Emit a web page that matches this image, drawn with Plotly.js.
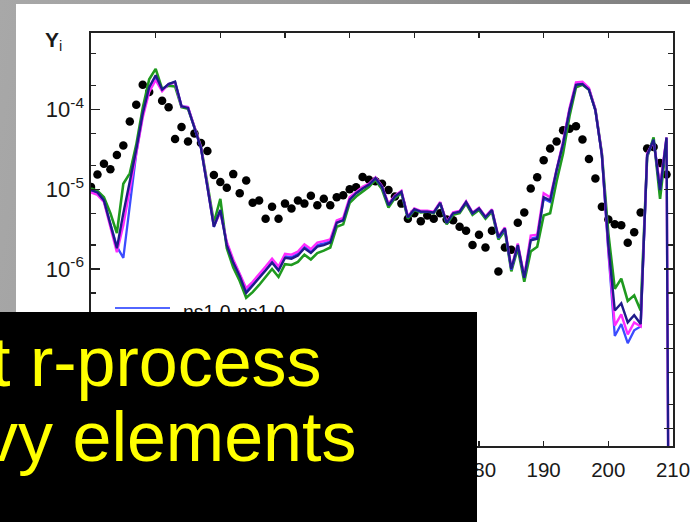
<!DOCTYPE html>
<html>
<head>
<meta charset="utf-8">
<script src="https://cdn.plot.ly/plotly-3.0.1.min.js"></script>
<style>
  html, body { margin: 0; padding: 0; }
  body { width: 690px; height: 522px; overflow: hidden;
         background: linear-gradient(100deg, #a8a8a8 0%, #9a9a9a 40%, #767676 100%); }
  #stage { position: relative; width: 690px; height: 522px; }
  #panel { position: absolute; left: 16px; top: 4px; right: 0; bottom: 0; background: #ffffff; }
  #chart { position: absolute; left: 0; top: 0; width: 690px; height: 522px; }
</style>
</head>
<body>
<div id="stage">
  <div id="panel"></div>
  <div id="chart"></div>
</div>
<script>
// Mass number A for every point on the abundance curves
const massNumber = [120,121,122,123,124,125,126,127,128,129,130,131,132,133,134,135,136,137,138,139,
  140,141,142,143,144,145,146,147,148,149,150,151,152,153,154,155,156,157,158,159,
  160,161,162,163,164,165,166,167,168,169,170,171,172,173,174,175,176,177,178,179,
  180,181,182,183,184,185,186,187,188,189,190,191,192,193,194,195,196,197,198,199,
  200,201,202,203,204,205,206,207,208,209,210];

// log10 of abundance Y_i, solar r-process pattern (black dots)
const log10Y_solar = [-4.97,-4.815,-4.68,-4.75,-4.57,-4.45,-4.15,-3.94,-3.69,-3.78,null,-3.89,-3.97,-4.37,-4.22,-4.40,-4.30,-4.42,-4.52,-4.82,
  -4.91,-4.98,-4.81,-5.05,-4.89,-5.17,-5.14,-5.37,-5.22,-5.37,-5.18,-5.24,-5.14,-5.18,-5.08,-5.20,-5.12,-5.20,-5.10,-5.075,
  -5.00,-4.975,-4.845,-4.88,-4.90,-4.93,-5.01,-5.09,-5.18,-5.37,-5.30,-5.40,-5.33,-5.37,-5.30,-5.38,-5.39,-5.47,-5.52,-5.70,
  -5.57,-5.73,-5.52,-6.03,-5.73,-5.76,-5.42,-5.29,-4.99,-4.85,-4.635,-4.49,-4.40,-4.26,-4.24,-4.21,-4.375,-4.62,-4.865,-5.22,
  -5.38,-5.44,-5.45,-5.67,-5.54,-5.29,-4.49,-4.47,-4.67,-4.815,null];

// log10 of abundance Y_i, model runs
const log10Y_green = [-4.99,-5.02,-5.10,-5.30,-5.55,-4.93,-4.80,-4.44,-3.98,-3.62,-3.49,-3.74,-3.70,-3.71,-3.97,-3.99,-4.22,-4.46,-4.93,-5.42,
  -5.12,-5.74,-5.98,-6.15,-6.36,-6.29,-6.20,-6.10,-6.00,-6.10,-5.94,-5.95,-5.91,-5.82,-5.88,-5.80,-5.77,-5.73,-5.47,-5.44,
  -5.17,-5.09,-5.03,-4.97,-4.88,-5.00,-5.23,-5.11,-5.05,-5.37,-5.26,-5.29,-5.28,-5.30,-5.17,-5.44,-5.32,-5.30,-5.18,-5.32,
  -5.26,-5.37,-5.28,-5.63,-5.52,-6.03,-5.74,-6.16,-5.78,-5.72,-5.33,-5.30,-4.90,-4.55,-4.08,-3.72,-3.69,-3.75,-4.00,-4.55,
  -5.55,-6.25,-6.12,-6.40,-6.33,-6.52,-4.60,-4.35,-5.12,-4.40,null];

const log10Y_blue = [-5.02,-5.05,-5.15,-5.45,-5.72,-5.86,-5.20,-4.55,-4.07,-3.75,-3.60,-3.76,-3.68,-3.66,-3.96,-3.97,-4.23,-4.48,-4.97,-5.47,
  -5.27,-5.68,-5.90,-6.07,-6.27,-6.19,-6.10,-6.00,-5.90,-6.00,-5.84,-5.85,-5.81,-5.72,-5.78,-5.70,-5.68,-5.65,-5.41,-5.38,
  -5.12,-5.04,-4.98,-4.94,-4.86,-4.97,-5.19,-5.09,-5.03,-5.35,-5.25,-5.28,-5.28,-5.29,-5.17,-5.42,-5.30,-5.28,-5.16,-5.30,
  -5.24,-5.35,-5.26,-5.61,-5.50,-6.01,-5.70,-6.11,-5.62,-5.60,-5.12,-5.16,-4.76,-4.42,-4.00,-3.68,-3.67,-3.74,-4.01,-4.57,
  -5.78,-6.84,-6.69,-6.93,-6.77,-6.72,-4.58,-4.38,-5.00,-4.36,null];

const log10Y_magenta = [-5.04,-5.07,-5.16,-5.48,-5.79,-5.45,-4.98,-4.55,-4.10,-3.78,-3.63,-3.77,-3.68,-3.66,-3.96,-3.97,-4.22,-4.47,-4.96,-5.46,
  -5.29,-5.66,-5.88,-6.05,-6.24,-6.16,-6.07,-5.97,-5.87,-5.97,-5.81,-5.82,-5.78,-5.69,-5.75,-5.67,-5.65,-5.63,-5.39,-5.36,
  -5.10,-5.03,-4.97,-4.93,-4.85,-4.96,-5.18,-5.08,-5.02,-5.34,-5.24,-5.27,-5.27,-5.28,-5.16,-5.41,-5.29,-5.27,-5.15,-5.29,
  -5.23,-5.34,-5.25,-5.59,-5.48,-5.99,-5.68,-6.09,-5.58,-5.57,-5.05,-5.10,-4.74,-4.40,-3.98,-3.66,-3.65,-3.73,-4.00,-4.56,
  -5.75,-6.71,-6.57,-6.82,-6.67,-6.72,-4.55,-4.40,-4.95,-4.35,-20];

const log10Y_navy = [-5.01,-5.04,-5.14,-5.44,-5.74,-5.30,-4.92,-4.50,-4.05,-3.72,-3.57,-3.75,-3.68,-3.65,-3.96,-3.98,-4.23,-4.48,-4.97,-5.47,
  -5.26,-5.70,-5.92,-6.09,-6.30,-6.21,-6.12,-6.02,-5.92,-6.02,-5.86,-5.87,-5.83,-5.74,-5.80,-5.72,-5.70,-5.67,-5.42,-5.39,
  -5.13,-5.05,-4.99,-4.94,-4.86,-4.97,-5.20,-5.09,-5.03,-5.35,-5.25,-5.28,-5.28,-5.29,-5.17,-5.42,-5.30,-5.28,-5.16,-5.30,
  -5.24,-5.35,-5.26,-5.60,-5.49,-6.00,-5.70,-6.11,-5.64,-5.62,-5.10,-5.14,-4.76,-4.43,-4.01,-3.69,-3.68,-3.75,-4.01,-4.57,
  -5.70,-6.52,-6.43,-6.67,-6.58,-6.69,-4.57,-4.38,-5.01,-4.35,-20];

// axis ticks (labels under the caption box are left blank)
const xTicks = [120,130,140,150,160,170,180,190,200,210];
const xTickText = ['','','','','','','180','190','200','210'];
const yMajor = [1e-8,1e-7,1e-6,1e-5,1e-4,1e-3];
const yMajorText = ['','','10<sup>-6</sup>','10<sup>-5</sup>','10<sup>-4</sup>',''];
const yMinor = [2e-8,5e-8,2e-7,5e-7,2e-6,5e-6,2e-5,5e-5,2e-4,5e-4];

const legendLabel = 'ns1.0-ns1.0';
const overlayLines = ['t r-process', 'vy elements'];

const toY = arr => arr.map(v => (v === null ? null : Math.pow(10, v)));

const FONT = 'Liberation Sans, Arial, Helvetica, sans-serif';

function curve(values, color, width) {
  return {
    x: massNumber, y: toY(values), type: 'scatter', mode: 'lines',
    line: { color: color, width: width }, connectgaps: false,
    hoverinfo: 'skip', showlegend: false
  };
}

const traces = [
  { x: massNumber, y: toY(log10Y_solar), type: 'scatter', mode: 'markers',
    marker: { color: '#000000', size: 8.5 }, hoverinfo: 'skip', showlegend: false },
  curve(log10Y_green, '#1f9a1f', 2.6),
  curve(log10Y_blue, '#3b4cff', 2.3),
  curve(log10Y_magenta, '#ff2cff', 2.4),
  curve(log10Y_navy, '#1f1a8a', 2.4)
];

// plot area in pixels
const L = 91, R = 673, T = 33, B = 446;
const px = x => (x - L) / (R - L);
const py = y => (B - y) / (B - T);

const layout = {
  width: 690, height: 522,
  margin: { l: L, r: 690 - R, t: T, b: 522 - B, pad: 0 },
  paper_bgcolor: 'rgba(0,0,0,0)', plot_bgcolor: 'rgba(0,0,0,0)',
  font: { family: FONT, color: '#111111', size: 20 },
  showlegend: false,
  xaxis: {
    type: 'linear', range: [120, 210], tickmode: 'array', tickvals: xTicks, ticktext: xTickText,
    ticks: 'inside', ticklen: 5, tickwidth: 1.3, tickcolor: '#222',
    showline: true, linecolor: '#222', linewidth: 1.6, mirror: 'ticks',
    showgrid: false, zeroline: false, tickfont: { size: 20.5, family: FONT, color: '#1a1a1a' },
    ticklabelstandoff: 5, ticklabeloverflow: 'allow'
  },
  yaxis: {
    type: 'log', range: [-8.22, -3.04], tickmode: 'array', tickvals: yMajor, ticktext: yMajorText,
    ticks: 'inside', ticklen: 9, tickwidth: 1.3, tickcolor: '#222',
    minor: { tickmode: 'array', tickvals: yMinor, ticks: 'inside', ticklen: 5, tickwidth: 1.2, tickcolor: '#222', showgrid: false },
    showline: true, linecolor: '#222', linewidth: 1.6, mirror: 'ticks',
    showgrid: false, zeroline: false, tickfont: { size: 22, family: FONT, color: '#1a1a1a' },
    ticklabelstandoff: 1
  },
  shapes: [
    { type: 'line', xref: 'paper', yref: 'paper', x0: px(115), x1: px(170), y0: py(308), y1: py(308),
      line: { color: '#5266ff', width: 2 } }
  ],
  annotations: [
    { xref: 'paper', yref: 'paper', x: px(43), y: py(41), xanchor: 'left', yanchor: 'middle',
      text: '<b>Y</b><sub>i</sub>', showarrow: false, font: { family: FONT, size: 21, color: '#1a1a1a' } },
    { xref: 'paper', yref: 'paper', x: px(182), y: py(300), xanchor: 'left', yanchor: 'top',
      text: legendLabel, showarrow: false, borderpad: 0, font: { family: FONT, size: 19.5, color: '#111' } },
    // black caption box laid over the lower-left of the figure
    { xref: 'paper', yref: 'paper', x: px(0), y: py(312), xanchor: 'left', yanchor: 'top',
      text: ' ', showarrow: false, width: 477, height: 210, bgcolor: '#000000',
      borderpad: 0, borderwidth: 0, bordercolor: 'rgba(0,0,0,0)' },
    { xref: 'paper', yref: 'paper', x: px(-10.2), y: py(362.4), xanchor: 'left', yanchor: 'middle',
      text: overlayLines[0], showarrow: false, borderpad: 0, font: { family: FONT, size: 70, color: '#ffff00' } },
    { xref: 'paper', yref: 'paper', x: px(-18.3), y: py(437.4), xanchor: 'left', yanchor: 'middle',
      text: overlayLines[1], showarrow: false, borderpad: 0, font: { family: FONT, size: 70, color: '#ffff00' } }
  ]
};

Plotly.newPlot('chart', traces, layout, { displayModeBar: false, staticPlot: true });
</script>
</body>
</html>
